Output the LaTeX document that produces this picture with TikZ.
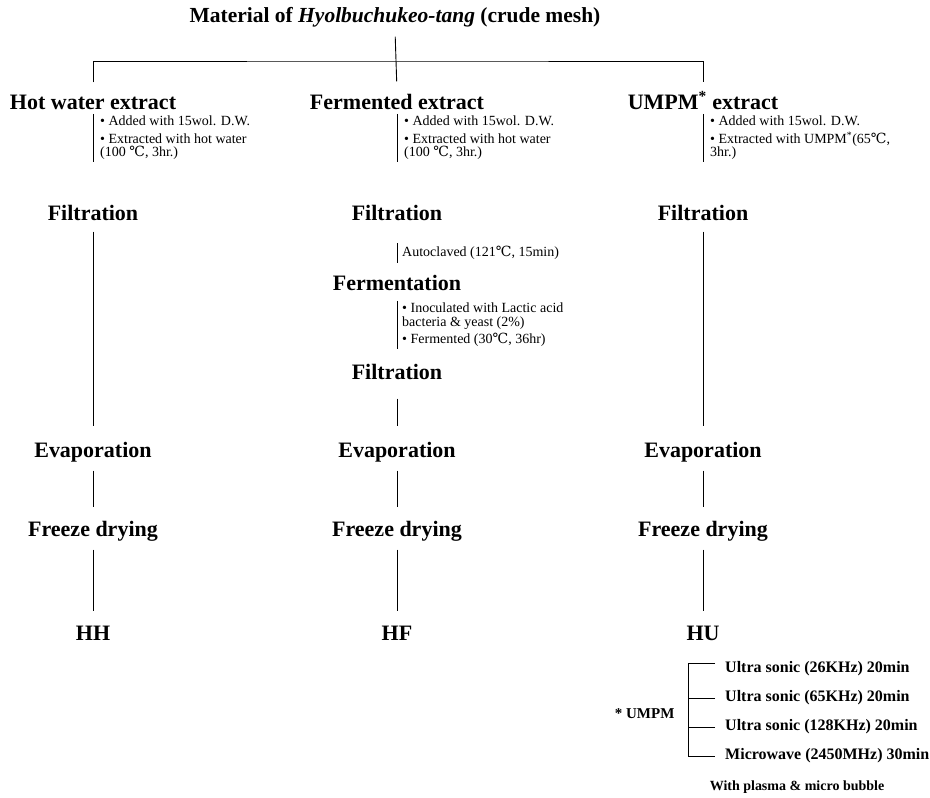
\documentclass[tikz,border=0pt]{standalone}
\usepackage{fontspec}
\setmainfont{Liberation Serif}
\newfontfamily\degfont{DejaVu Serif}
\usepackage{tikz}
\usetikzlibrary{calc}
\newcommand{\dgc}{{\degfont ℃}}
\tikzset{
  stage/.style={font=\fontsize{22}{24}\selectfont\bfseries, text height=15pt, text depth=4pt, inner sep=3pt},
  memo/.style={font=\fontsize{14}{13.5}\selectfont, align=left, anchor=west, inner xsep=0pt, inner ysep=2pt},
  bar/.style={line width=0.9pt},
  link/.style={line width=0.9pt, shorten <=6pt, shorten >=11pt},
  mode/.style={font=\fontsize{16}{18}\selectfont\bfseries, anchor=west, inner sep=0pt},
}

\begin{document}
\begin{tikzpicture}[x=1pt,y=-1pt]
\useasboundingbox (0,0) rectangle (930,798);

\node[stage, font=\fontsize{21.5}{24}\selectfont\bfseries] (title) at (395,17)
  {Material of \textit{Hyolbuchukeo-tang} (crude mesh)};

\node[stage] (hdrH) at (93,104) {Hot water extract};
\node[stage] (hdrF) at (397,104) {Fermented extract};
\node[stage] (hdrU) at (703,104) {UMPM\textsuperscript{*} extract};

\coordinate (bus) at (397,61);
\draw[bar, shorten <=7pt, shorten >=10pt] (title.south) -- (hdrF.north);
\draw[bar] ([yshift=9pt]hdrH.north) |- (bus) -| ([yshift=9pt]hdrU.north);

\node[memo] (noteH) at (100,138) {• Added with 15wol. D.W.\\[4pt]• Extracted with hot water\\(100 \dgc, 3hr.)};
\node[memo] (noteF) at (404,138) {• Added with 15wol. D.W.\\[4pt]• Extracted with hot water\\(100 \dgc, 3hr.)};
\node[memo] (noteU) at (710,138) {• Added with 15wol. D.W.\\[4pt]• Extracted with UMPM\textsuperscript{*}(65\dgc,\\3hr.)};
\foreach \n in {noteH,noteF,noteU}
  \draw[bar] ([xshift=-7pt]\n.north west) -- ([xshift=-7pt]\n.south west);

\node[stage] (filtH) at (93,215) {Filtration};
\node[stage] (filtF) at (397,215) {Filtration};
\node[stage] (filtU) at (703,215) {Filtration};

\node[memo, inner ysep=3pt] (autoF) at (402,253) {Autoclaved (121\dgc, 15min)};
\draw[bar] ([xshift=-5pt]autoF.north west) -- ([xshift=-5pt]autoF.south west);

\node[stage] (fermF) at (397,285) {Fermentation};
\node[memo] (inocF) at (402,325) {• Inoculated with Lactic acid\\bacteria \& yeast (2\%)\\[4pt]• Fermented (30\dgc, 36hr)};
\draw[bar] ([xshift=-5pt]inocF.north west) -- ([xshift=-5pt]inocF.south west);

\node[stage] (filtF2) at (397,374) {Filtration};

\foreach \c/\x/\p in {H/93/HH,F/397/HF,U/703/HU} {
  \node[stage] (evap\c) at (\x,452) {Evaporation};
  \node[stage] (dry\c) at (\x,531) {Freeze drying};
  \node[stage] (prod\c) at (\x,635) {\p};
  \draw[link] (evap\c.south) -- (dry\c.north);
  \draw[link] (dry\c.south) -- (prod\c.north);
}
\draw[link, shorten <=4pt, shorten >=13pt] (filtH.south) -- (evapH.north);
\draw[link, shorten <=4pt, shorten >=13pt] (filtU.south) -- (evapU.north);
\draw[link, shorten <=12pt, shorten >=13pt] (filtF2.south) -- (evapF.north);

\node[mode] (modeA) at (725,669) {Ultra sonic (26KHz) 20min};
\node[mode] (modeB) at (725,698) {Ultra sonic (65KHz) 20min};
\node[mode] (modeC) at (725,727) {Ultra sonic (128KHz) 20min};
\node[mode] (modeD) at (725,756) {Microwave (2450MHz) 30min};
\draw[bar] ([xshift=-10pt,yshift=6pt]modeA.west) -- ++(-27,0) |- ([xshift=-10pt]modeD.west);
\foreach \r in {modeB,modeC}
  \draw[bar] ([xshift=-10pt]\r.west) -- ++(-27,0);

\node[font=\fontsize{15}{17}\selectfont\bfseries, anchor=east] (umpmkey) at (678,714) {* UMPM};
\node[font=\fontsize{14}{16}\selectfont\bfseries] (plasma) at (797,787) {With plasma \& micro bubble};
\end{tikzpicture}
\end{document}
